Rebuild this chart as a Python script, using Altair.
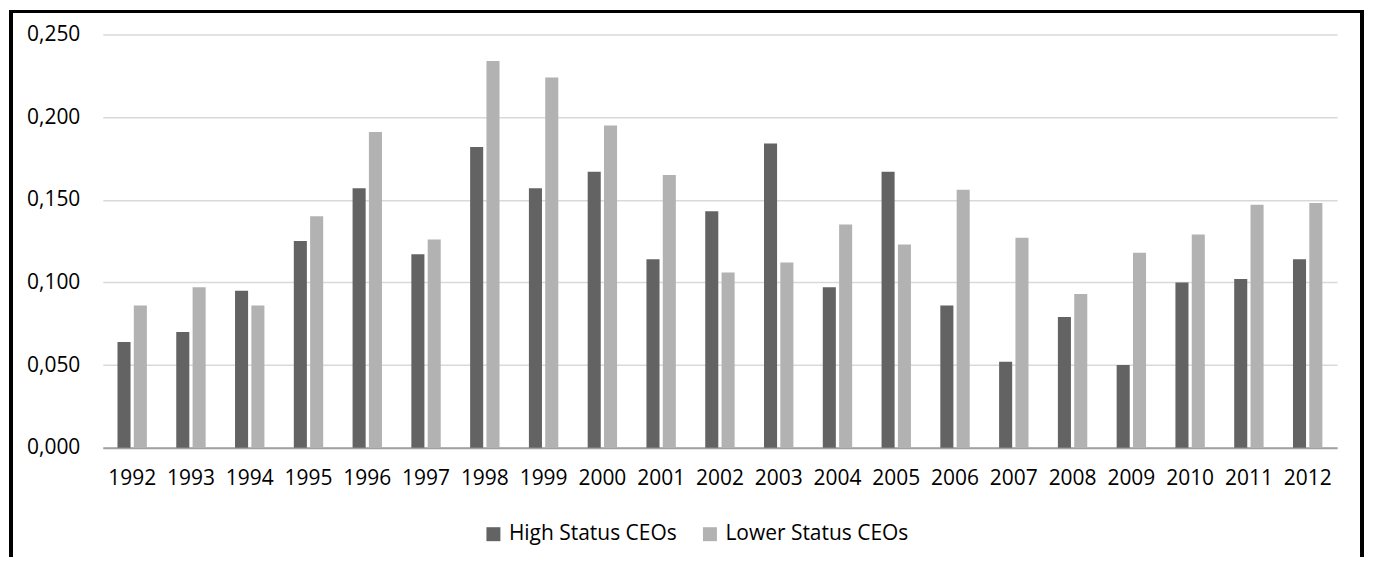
import altair as alt
import pandas as pd

years = [str(y) for y in range(1992, 2013)]
high_status = [0.064, 0.070, 0.095, 0.125, 0.157, 0.117, 0.182, 0.157, 0.167, 0.114, 0.143,
               0.184, 0.097, 0.167, 0.086, 0.052, 0.079, 0.050, 0.100, 0.102, 0.114]
lower_status = [0.086, 0.097, 0.086, 0.140, 0.191, 0.126, 0.234, 0.224, 0.195, 0.165, 0.106,
                0.112, 0.135, 0.123, 0.156, 0.127, 0.093, 0.118, 0.129, 0.147, 0.148]
series = ["High Status CEOs", "Lower Status CEOs"]
colors = ["#636363", "#b2b2b2"]
y_ticks = [0, 0.05, 0.10, 0.15, 0.20, 0.25]

rows = []
for i, y in enumerate(years):
    rows.append({"year": y, "series": series[0], "value": high_status[i]})
    rows.append({"year": y, "series": series[1], "value": lower_status[i]})
df = pd.DataFrame(rows)

FONT = "Open Sans"
FS = 21

bars = alt.Chart(df).mark_bar().encode(
    x=alt.X("year:N", sort=years,
            scale=alt.Scale(paddingInner=0.5, paddingOuter=0.25),
            axis=alt.Axis(title=None, labelAngle=0, ticks=False, domain=True, grid=False,
                          domainColor="#a0a0a0", domainWidth=2, labelPadding=20,
                          labelFontSize=FS, labelFont=FONT, labelColor="#000")),
    xOffset=alt.XOffset("series:N", sort=series, scale=alt.Scale(paddingInner=0.2, paddingOuter=0)),
    y=alt.Y("value:Q", scale=alt.Scale(domain=[0, 0.25], nice=False),
            axis=alt.Axis(title=None, values=y_ticks, ticks=False, domain=False,
                          labelExpr="replace(format(datum.value, '.3f'), '.', ',')",
                          labelPadding=23, labelFontSize=FS, labelFont=FONT, labelColor="#000",
                          gridColor="#d9d9d9", gridWidth=1.5)),
    color=alt.Color("series:N", sort=series,
                    scale=alt.Scale(domain=series, range=colors),
                    legend=alt.Legend(title=None, orient="none", direction="horizontal",
                                      legendX=381, legendY=490, symbolType="square",
                                      symbolSize=196, symbolStrokeWidth=0, labelOffset=5,
                                      columnPadding=22, labelFontSize=FS, labelFont=FONT,
                                      labelColor="#000", labelLimit=400, padding=0)),
)

frame_left = alt.Chart(df).mark_rule(color="#000", strokeWidth=2.5).encode(
    x=alt.value(-92), y=alt.value(-24), y2=alt.value(523))
frame_top = alt.Chart(df).mark_rule(color="#000", strokeWidth=2.5).encode(
    x=alt.value(-93), x2=alt.value(1263), y=alt.value(-23))
frame_right = alt.Chart(df).mark_rule(color="#000", strokeWidth=2.5).encode(
    x=alt.value(1262), y=alt.value(-24), y2=alt.value(523))

chart = alt.layer(bars, frame_left, frame_top, frame_right).properties(
    width=1237, height=414, padding=0, background="white"
).configure_view(strokeWidth=0, stroke=None)

chart.save("out.html", embed_options={"renderer": "svg", "actions": False})
